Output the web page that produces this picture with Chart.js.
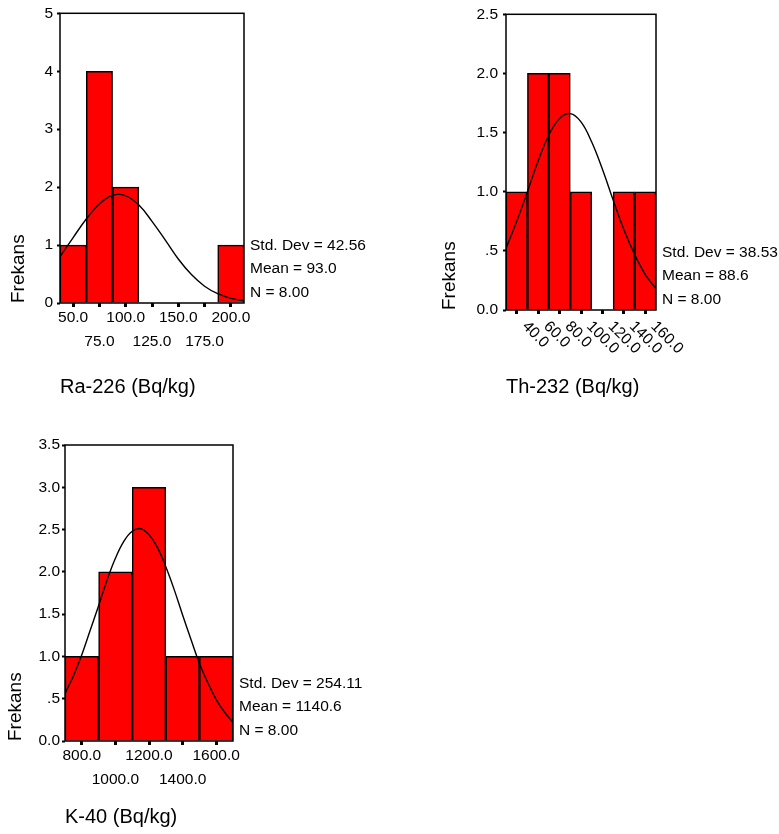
<!DOCTYPE html>
<html>
<head>
<meta charset="utf-8">
<script src="https://cdn.jsdelivr.net/npm/chart.js@4.4.1/dist/chart.umd.min.js"></script>
<style>
  body { margin: 0; background: #fff; }
  .panel { position: absolute; }
</style>
</head>
<body>
<div class="panel" style="left:0;top:0"><canvas id="raChart" width="380" height="400"></canvas></div>
<div class="panel" style="left:430px;top:0"><canvas id="thChart" width="349" height="400"></canvas></div>
<div class="panel" style="left:0;top:430px"><canvas id="kChart" width="380" height="404"></canvas></div>
<script>
// Ra-226
const raBins = [50, 75, 100, 125, 150, 175, 200];
const raCounts = [1, 4, 2, 0, 0, 0, 1];
const raXLabels = ["50.0", "75.0", "100.0", "125.0", "150.0", "175.0", "200.0"];
const raYValues = [0, 1, 2, 3, 4, 5];
const raYLabels = ["0", "1", "2", "3", "4", "5"];
const raCurveX = [37.5, 50, 62.5, 75, 87.5, 100, 112.5, 125, 137.5, 150, 162.5, 175, 187.5, 200, 212.5];
const raCurveY = [0.80, 1.13, 1.45, 1.71, 1.86, 1.85, 1.69, 1.41, 1.09, 0.76, 0.49, 0.29, 0.16, 0.08, 0.04];
const raStats = ["Std. Dev = 42.56", "Mean = 93.0", "N = 8.00"];

// Th-232
const thBins = [40, 60, 80, 100, 120, 140, 160];
const thCounts = [1, 2, 2, 1, 0, 1, 1];
const thXLabels = ["40.0", "60.0", "80.0", "100.0", "120.0", "140.0", "160.0"];
const thYValues = [0, 0.5, 1, 1.5, 2, 2.5];
const thYLabels = ["0.0", ".5", "1.0", "1.5", "2.0", "2.5"];
const thCurveX = [30, 40, 50, 60, 70, 80, 90, 100, 110, 120, 130, 140, 150, 160, 170];
const thCurveY = [0.52, 0.75, 1.00, 1.26, 1.48, 1.62, 1.66, 1.59, 1.42, 1.19, 0.93, 0.68, 0.47, 0.30, 0.18];
const thStats = ["Std. Dev = 38.53", "Mean = 88.6", "N = 8.00"];

// K-40
const kBins = [800, 1000, 1200, 1400, 1600];
const kCounts = [1, 2, 3, 1, 1];
const kXLabels = ["800.0", "1000.0", "1200.0", "1400.0", "1600.0"];
const kYValues = [0, 0.5, 1, 1.5, 2, 2.5, 3, 3.5];
const kYLabels = ["0.0", ".5", "1.0", "1.5", "2.0", "2.5", "3.0", "3.5"];
const kCurveX = [700, 750, 800, 850, 900, 950, 1000, 1050, 1100, 1150, 1200, 1250, 1300, 1350, 1400, 1450, 1500, 1550, 1600, 1650, 1700];
const kCurveY = [0.56, 0.77, 1.02, 1.31, 1.60, 1.90, 2.16, 2.36, 2.48, 2.51, 2.44, 2.29, 2.06, 1.79, 1.49, 1.20, 0.92, 0.69, 0.49, 0.34, 0.22];
const kStats = ["Std. Dev = 254.11", "Mean = 1140.6", "N = 8.00"];

const FONT = '"Liberation Sans", Arial, sans-serif';
Chart.defaults.font.family = FONT;
Chart.defaults.color = "#000";

// box round the plot area, stats text, optional rotated x labels
const histExtras = {
    id: "histExtras",
    afterDatasetsDraw(chart, args, opts) {
        const { ctx, chartArea } = chart;
        ctx.save();
        ctx.strokeStyle = "#000";
        ctx.lineWidth = 1.5;
        ctx.strokeRect(chartArea.left, chartArea.top,
            chartArea.right - chartArea.left, chartArea.bottom - chartArea.top);
        ctx.fillStyle = "#000";
        ctx.font = "15.5px " + FONT;
        ctx.textAlign = "left";
        ctx.textBaseline = "middle";
        const offs = [-57, -34, -10];
        opts.stats.forEach((s, i) => {
            ctx.fillText(s, chartArea.right + 6, chartArea.bottom + offs[i]);
        });
        if (opts.rotated) {
            const xs = chart.scales.x;
            opts.rotated.forEach((lab, i) => {
                const px = xs.getPixelForValue(opts.rotatedAt[i]);
                ctx.save();
                ctx.translate(px + 8, chartArea.bottom + 14);
                ctx.rotate(Math.PI / 4);
                ctx.fillText(lab, 0, 0);
                ctx.restore();
            });
        }
        ctx.restore();
    },
};

function makeHist(id, o) {
    const rotate = !!o.rotate;
    return new Chart(document.getElementById(id), {
        type: "bar",
        data: {
            datasets: [
                {
                    type: "line",
                    data: o.curveX.map((x, i) => ({ x: x, y: o.curveY[i] })),
                    borderColor: "#000",
                    borderWidth: 1.4,
                    pointRadius: 0,
                    tension: 0.4,
                    fill: false,
                    order: 0,
                },
                {
                    data: o.bins.map((x, i) => ({ x: x, y: o.counts[i] })),
                    backgroundColor: "#ff0000",
                    borderColor: "#000",
                    borderWidth: 1.5,
                    barPercentage: 1,
                    categoryPercentage: 1,
                    order: 1,
                },
            ],
        },
        options: {
            responsive: false,
            animation: false,
            layout: { padding: { left: 0, top: o.top, right: o.right, bottom: 0 } },
            plugins: {
                legend: { display: false },
                tooltip: { enabled: false },
                histExtras: {
                    stats: o.stats,
                    rotated: rotate ? o.xLabels : null,
                    rotatedAt: o.bins,
                },
            },
            scales: {
                x: {
                    type: "linear",
                    offset: false,
                    min: o.xMin,
                    max: o.xMax,
                    border: { display: false },
                    grid: {
                        offset: false,
                        drawOnChartArea: false,
                        tickLength: 4,
                        tickWidth: 3,
                        tickColor: "#000",
                    },
                    afterBuildTicks: (s) => {
                        s.ticks = o.bins.map((v) => ({ value: v }));
                    },
                    afterFit: (s) => {
                        s.height = o.xHeight;
                    },
                    ticks: {
                        autoSkip: false,
                        maxRotation: 0,
                        minRotation: 0,
                        padding: -1,
                        font: { size: 15.5, lineHeight: 1.55 },
                        callback: (v, i) => {
                            if (rotate) return "";
                            return i % 2 === 0 ? [o.xLabels[i], ""] : ["", o.xLabels[i]];
                        },
                    },
                    title: {
                        display: true,
                        text: o.title,
                        align: "start",
                        font: { size: 20 },
                        padding: { top: 0, bottom: o.titlePad },
                    },
                },
                y: {
                    min: 0,
                    max: o.yValues[o.yValues.length - 1],
                    border: { display: false },
                    grid: {
                        drawOnChartArea: false,
                        tickLength: 3,
                        tickWidth: 2,
                        tickColor: "#000",
                    },
                    afterBuildTicks: (s) => {
                        s.ticks = o.yValues.map((v) => ({ value: v }));
                    },
                    afterFit: (s) => {
                        s.width = o.left;
                    },
                    ticks: {
                        padding: o.yPad,
                        font: { size: 15.5 },
                        callback: (v, i) => o.yLabels[i],
                    },
                    title: {
                        display: true,
                        text: "Frekans",
                        align: "start",
                        font: { size: 19 },
                        padding: { top: o.yTitlePad, bottom: 0 },
                    },
                },
            },
        },
        plugins: [histExtras],
    });
}

makeHist("raChart", {
    bins: raBins, counts: raCounts, xLabels: raXLabels,
    yValues: raYValues, yLabels: raYLabels,
    curveX: raCurveX, curveY: raCurveY, stats: raStats,
    xMin: 37.5, xMax: 212.5, title: "Ra-226 (Bq/kg)",
    left: 60, top: 13, right: 136, xHeight: 97,
    yPad: 4, titlePad: 1, yTitlePad: 7,
});

makeHist("thChart", {
    bins: thBins, counts: thCounts, xLabels: thXLabels,
    yValues: thYValues, yLabels: thYLabels,
    curveX: thCurveX, curveY: thCurveY, stats: thStats,
    xMin: 30, xMax: 170, title: "Th-232 (Bq/kg)",
    left: 76, top: 13, right: 123, xHeight: 90,
    yPad: 5, titlePad: 1, yTitlePad: 8, rotate: true,
});

makeHist("kChart", {
    bins: kBins, counts: kCounts, xLabels: kXLabels,
    yValues: kYValues, yLabels: kYLabels,
    curveX: kCurveX, curveY: kCurveY, stats: kStats,
    xMin: 700, xMax: 1700, title: "K-40 (Bq/kg)",
    left: 65, top: 15, right: 147, xHeight: 93,
    yPad: 2, titlePad: 5, yTitlePad: 4,
});
</script>
</body>
</html>
